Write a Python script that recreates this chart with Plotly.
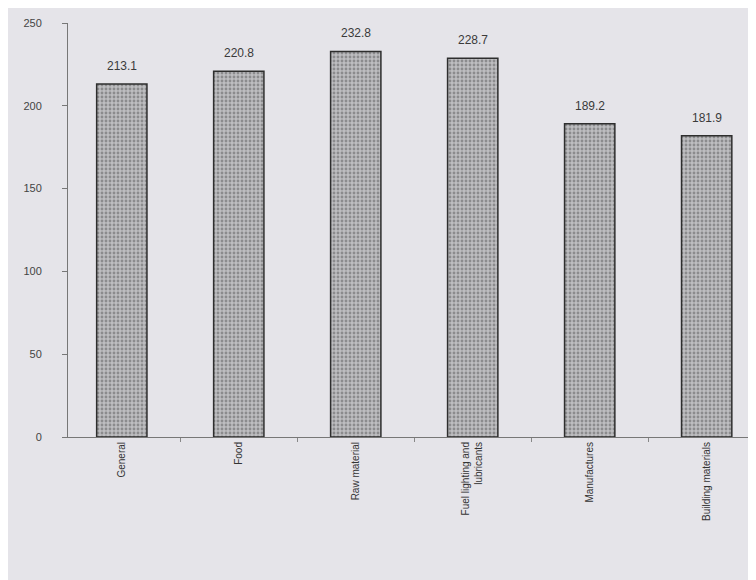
import plotly.graph_objects as go

categories = ["General", "Food", "Raw material", "Fuel lighting and<br>lubricants", "Manufactures", "Building materials"]
values = [213.1, 220.8, 232.8, 228.7, 189.2, 181.9]
value_labels = ["213.1", "220.8", "232.8", "228.7", "189.2", "181.9"]
y_ticks = [0, 50, 100, 150, 200, 250]

bg = "#e5e4e9"
font_fam = "Liberation Sans, Arial, sans-serif"

fig = go.Figure(go.Bar(
    x=categories,
    y=values,
    width=0.43,
    marker=dict(
        color="#9c9c9c",
        line=dict(color="#2e2e2e", width=1.5),
        pattern=dict(shape=".", fgcolor="#5a5a5a", bgcolor="#bdbdc0", size=4, solidity=0.4),
    ),
))

for c, v, t in zip(categories, values, value_labels):
    fig.add_annotation(x=c, y=v, text=t, showarrow=False, yanchor="bottom",
                       yshift=9, font=dict(size=12, color="#3a3a3a", family=font_fam))

fig.update_layout(
    width=756, height=580,
    margin=dict(l=60, r=0, t=15, b=151),
    paper_bgcolor=bg, plot_bgcolor=bg,
    showlegend=False,
    font=dict(family=font_fam, color="#3a3a3a"),
)
fig.update_xaxes(
    type="category",
    range=[-0.46, 5.49],
    tickangle=-90,
    tickfont=dict(size=10, color="#333"),
    showline=True, linecolor="#777", linewidth=1,
    ticks="outside", ticklen=4, tickcolor="#888", tickson="boundaries",
    showgrid=False, zeroline=False,
)
fig.update_yaxes(
    range=[0, 250],
    tickvals=y_ticks,
    tickfont=dict(size=11, color="#444"),
    showline=True, linecolor="#777", linewidth=1,
    ticks="outside", ticklen=5, tickcolor="#777",
    ticklabelstandoff=18,
    showgrid=False, zeroline=False,
)

fig.write_html("out.html")
